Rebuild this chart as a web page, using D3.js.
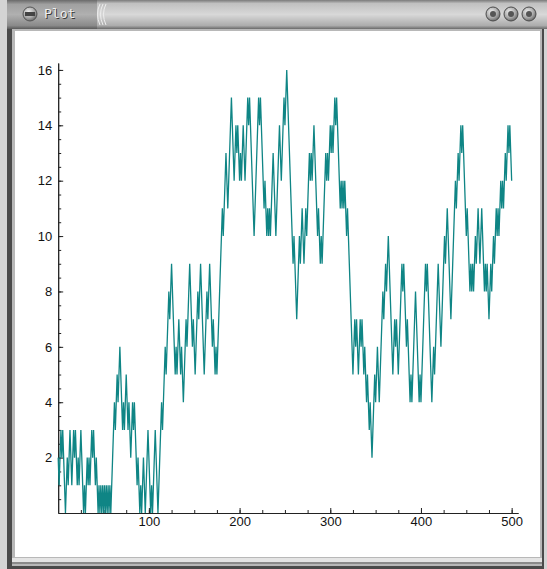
<!DOCTYPE html>
<html>
<head>
<meta charset="utf-8">
<script src="https://cdn.jsdelivr.net/npm/d3@7"></script>
<style>
  body { margin: 0; background: #fff; }
  svg { display: block; }
  .tick text { font-family: "Liberation Sans", Arial, sans-serif; font-size: 13px; fill: #111; }
</style>
</head>
<body>
<script>
// random walk, one value per step
const walk = [
  2,1,2,3,2,3,2,1,0,1, 2,1,2,3,2,1,2,3,2,3, 2,1,2,1,2,3,2,1,0,1, 0,1,2,1,2,1,2,3,2,3,
  2,1,2,1,0,1,0,1,0,1, 0,1,0,1,0,1,0,1,0,1, 2,3,4,3,4,5,4,5,6,5, 4,3,4,3,4,5,4,3,4,3,
  2,3,4,3,4,3,2,1,2,1, 0,1,0,1,2,1,0,1,2,3, 2,1,0,1,0,1,2,3,2,1, 0,1,2,3,4,3,4,5,6,5,
  6,7,8,7,8,9,8,7,6,5, 6,5,6,7,6,5,6,5,4,5, 6,7,6,7,8,9,8,7,6,7, 6,5,6,7,8,7,8,9,8,7,
  6,5,6,7,8,7,8,9,8,7, 6,7,6,5,6,5,6,7,8,9, 10,11,10,11,12,13,12,11,12,13, 14,15,14,13,12,13,14,13,14,13,
  12,13,12,13,14,13,12,13,14,15, 14,15,14,13,12,11,10,11,12,13, 14,15,14,15,14,13,12,11,12,11, 10,11,10,11,10,11,12,13,12,11,
  10,11,12,13,14,13,12,13,14,15, 14,15,16,15,14,13,12,11,10,9, 10,9,8,7,8,9,10,9,10,11, 10,9,10,11,10,11,12,13,12,13,
  12,13,14,13,12,11,10,11,10,9, 10,9,10,11,12,13,12,13,12,13, 14,13,14,13,14,15,14,15,14,13, 12,11,12,11,12,11,12,11,10,11,
  10,9,8,7,6,5,6,7,6,7, 6,5,6,7,6,7,6,5,6,5, 4,5,4,3,4,3,2,3,4,5, 4,5,6,5,4,5,6,7,8,7,
  8,9,8,9,10,9,8,7,6,5, 6,7,6,7,6,5,6,7,8,9, 8,9,8,7,6,7,6,5,4,5, 4,5,6,7,8,7,6,5,4,5,
  4,5,6,7,8,9,8,9,8,7, 6,5,4,5,6,5,6,7,8,9, 8,7,6,7,8,9,10,9,10,11, 10,9,8,7,8,9,10,11,12,11,
  12,13,12,13,14,13,14,13,12,11, 10,11,10,9,8,9,8,9,8,9, 10,9,10,11,10,9,10,11,10,9, 8,9,8,9,8,7,8,9,8,9,
  10,9,10,11,10,11,10,11,12,11, 12,11,12,13,12,13,14,13,14,13, 12
];
const yMajor = [2, 4, 6, 8, 10, 12, 14, 16];
const xMajor = [100, 200, 300, 400, 500];
const windowTitle = "Plot";

const W = 547, H = 569;
const svg = d3.select("body").append("svg").attr("width", W).attr("height", H);
const defs = svg.append("defs");

const g1 = defs.append("linearGradient").attr("id", "bar").attr("x1", 0).attr("y1", 0).attr("x2", 0).attr("y2", 1);
[[0, "#7a7a7a"], [0.12, "#c0c0c0"], [0.5, "#d8d8d8"], [0.88, "#acacac"], [1, "#6a6a6a"]]
  .forEach(s => g1.append("stop").attr("offset", s[0]).attr("stop-color", s[1]));
const g2 = defs.append("linearGradient").attr("id", "tab").attr("x1", 0).attr("y1", 0).attr("x2", 0).attr("y2", 1);
[[0, "#6a6a6a"], [0.15, "#a0a0a0"], [0.5, "#b0b0b0"], [0.88, "#8a8a8a"], [1, "#5a5a5a"]]
  .forEach(s => g2.append("stop").attr("offset", s[0]).attr("stop-color", s[1]));
const g3 = defs.append("radialGradient").attr("id", "btn").attr("cx", 0.4).attr("cy", 0.35).attr("r", 0.7);
[[0, "#f0f0f0"], [0.6, "#a8a8a8"], [1, "#606060"]]
  .forEach(s => g3.append("stop").attr("offset", s[0]).attr("stop-color", s[1]));

// window frame
svg.append("rect").attr("width", W).attr("height", H).attr("fill", "#d4d4d4");
svg.append("rect").attr("x", 7).attr("y", 0).attr("width", 537).attr("height", H).attr("fill", "#4a4a4a");
svg.append("rect").attr("x", 12).attr("y", 28).attr("width", 530).attr("height", 538).attr("fill", "#b8b8b8");
svg.append("rect").attr("x", 15).attr("y", 31).attr("width", 525).attr("height", 526).attr("fill", "#fff");
svg.append("rect").attr("x", 12).attr("y", 558).attr("width", 530).attr("height", 4).attr("fill", "#e4e4e4");
svg.append("rect").attr("x", 12).attr("y", 562).attr("width", 530).attr("height", 2).attr("fill", "#8a8a8a");

// title bar
svg.append("rect").attr("x", 7).attr("y", 0).attr("width", 540).attr("height", 29).attr("fill", "url(#bar)");
svg.append("rect").attr("x", 7).attr("y", 0).attr("width", 90).attr("height", 29).attr("fill", "url(#tab)");
[97, 100, 103].forEach(x => svg.append("path")
  .attr("d", `M${x + 3},4 Q${x - 2},14 ${x + 3},25`).attr("fill", "none").attr("stroke", "#eee").attr("stroke-width", 1));
svg.append("circle").attr("cx", 30).attr("cy", 14).attr("r", 7).attr("fill", "url(#btn)").attr("stroke", "#555");
svg.append("rect").attr("x", 25).attr("y", 12).attr("width", 10).attr("height", 4).attr("fill", "#444");
svg.append("text").attr("x", 45).attr("y", 19)
  .style("font-family", "'DejaVu Sans Mono', monospace").style("font-size", "13px")
  .attr("fill", "#3a3a3a").text(windowTitle)
  .clone(true).attr("x", 44).attr("y", 18).attr("fill", "#eeeeee");
[493, 511, 529].forEach(x => {
  svg.append("circle").attr("cx", x).attr("cy", 14).attr("r", 7).attr("fill", "url(#btn)").attr("stroke", "#4a4a4a");
  svg.append("circle").attr("cx", x).attr("cy", 14).attr("r", 3).attr("fill", "#555");
});

// plot
const x = d3.scaleLinear().domain([0, 507]).range([58.2, 518]);
const y = d3.scaleLinear().domain([0, 16.25]).range([513, 63]);

svg.append("g").attr("transform", `translate(${x(0)},0)`)
  .call(d3.axisLeft(y).tickValues(d3.range(0.5, 16.01, 0.5)).tickSizeInner(-3).tickSizeOuter(0).tickFormat(""));
svg.append("g").attr("transform", `translate(${x(0)},0)`)
  .call(d3.axisLeft(y).tickValues(yMajor).tickSizeInner(-5).tickSizeOuter(0).tickPadding(6).tickFormat(d3.format("d")));

svg.append("g").attr("transform", `translate(0,${y(0)})`)
  .call(d3.axisBottom(x).tickValues(d3.range(25, 501, 25)).tickSizeInner(-3).tickSizeOuter(0).tickFormat(""));
svg.append("g").attr("transform", `translate(0,${y(0)})`)
  .call(d3.axisBottom(x).tickValues(xMajor).tickSizeInner(-5).tickSizeOuter(0).tickPadding(4).tickFormat(d3.format("d")));

svg.selectAll(".domain, .tick line").attr("stroke", "#222");

svg.append("path").datum(walk)
  .attr("fill", "none").attr("stroke", "#0f8585").attr("stroke-width", 1.3)
  .attr("d", d3.line().x((d, i) => x(i)).y(d => y(d)));
</script>
</body>
</html>
